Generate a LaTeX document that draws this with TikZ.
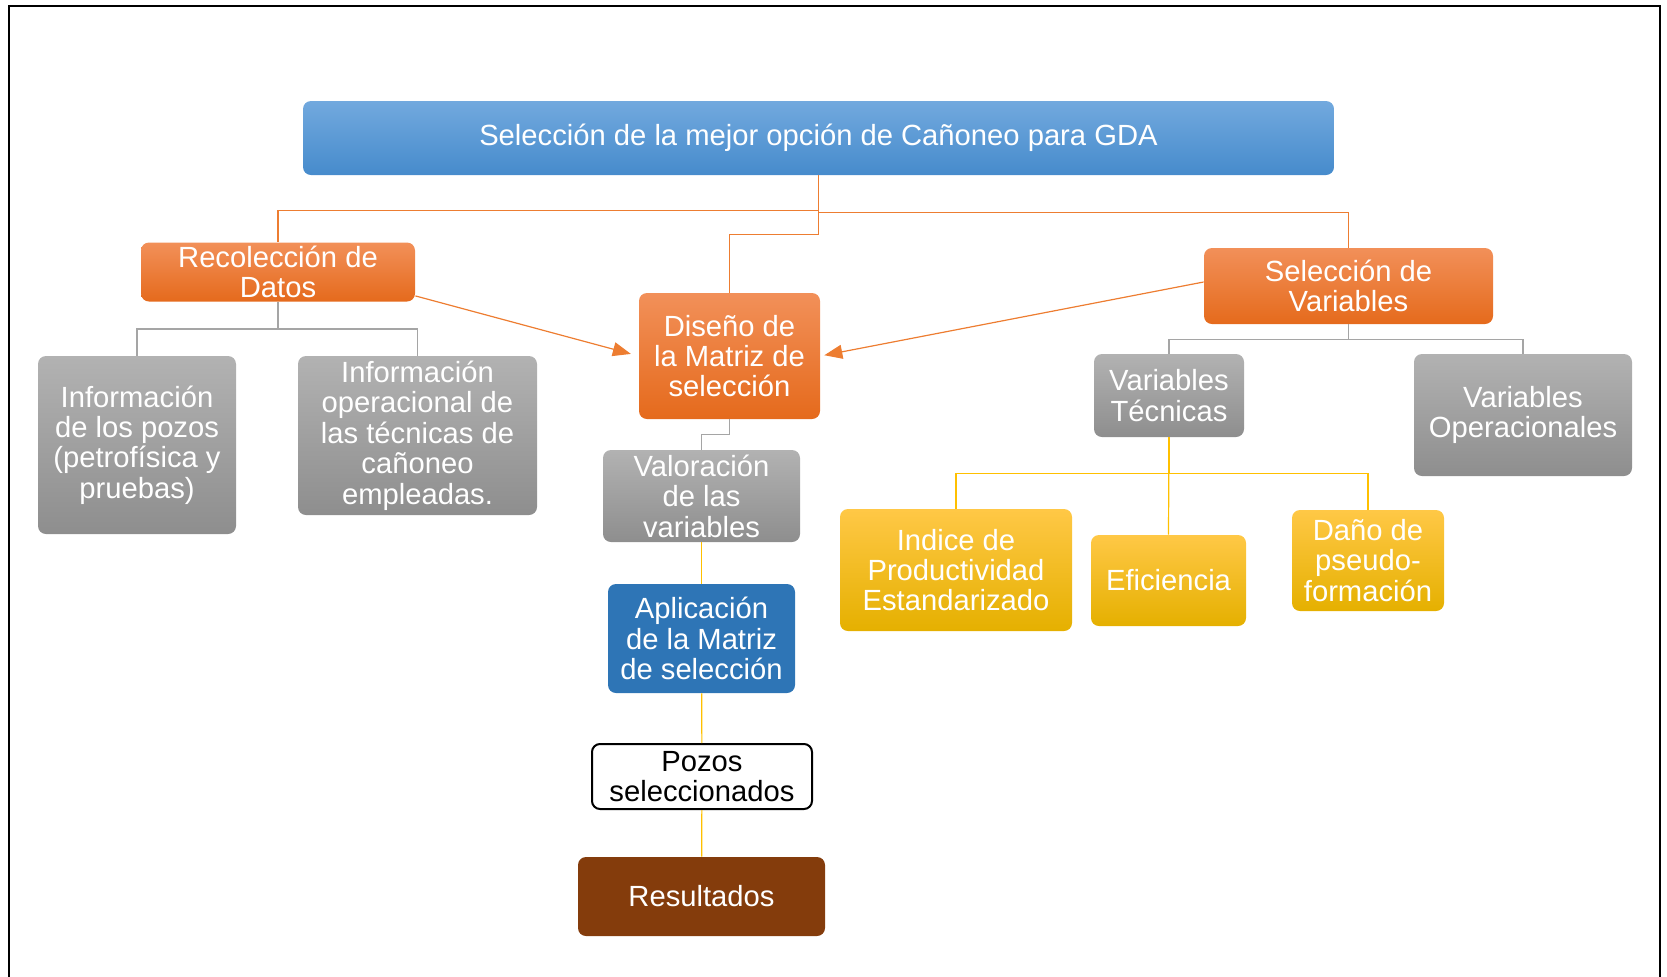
\documentclass[tikz,border=0pt]{standalone}
\usepackage{fontspec}
\setmainfont{Liberation Sans}
\usetikzlibrary{arrows.meta}

\definecolor{orTop}{HTML}{F29059}
\definecolor{orMid}{HTML}{F07B2C}
\definecolor{orBot}{HTML}{E56A1C}
\definecolor{grTop}{HTML}{B2B2B2}
\definecolor{grBot}{HTML}{8E8E8E}
\definecolor{yeTop}{HTML}{FFC846}
\definecolor{yeMid}{HTML}{FFC000}
\definecolor{yeBot}{HTML}{E5B000}
\definecolor{blTop}{HTML}{72A9DE}
\definecolor{blBot}{HTML}{468BCC}
\definecolor{blDark}{HTML}{2E75B6}
\definecolor{brown}{HTML}{843C0C}
\definecolor{orLine}{HTML}{ED7D31}
\definecolor{grLine}{HTML}{A5A5A5}
\definecolor{yeLine}{HTML}{FFC000}

\tikzset{
  orbox/.style={top color=orTop,middle color=orMid,bottom color=orBot},
  grbox/.style={top color=grTop,bottom color=grBot},
  yebox/.style={top color=yeTop,middle color=yeMid,bottom color=yeBot},
  orline/.style={draw=orLine,line width=0.6pt},
  grline/.style={draw=grLine,line width=0.6pt},
  yeline/.style={draw=yeLine,line width=0.6pt}
}

\begin{document}
\begin{tikzpicture}[x=0.5pt,y=-0.5pt]
\useasboundingbox (0,0) rectangle (1667,976);
\draw[line width=1.4pt] (9,990) -- (9,6) -- (1660,6) -- (1660,990);

\begin{scope}[every node/.style={rounded corners=4pt,align=center,text=white,
  inner sep=0pt,font=\fontsize{14.6}{15.2}\selectfont}]
	\node[top color=blTop,bottom color=blBot,minimum width=515.5pt,minimum height=37pt] (top) at (818.5,138)
		{Selección de la mejor opción de Cañoneo para GDA};
	\node[orbox,minimum width=137pt,minimum height=29.5pt] (reco) at (278,272) {Recolección de\\Datos};
	\node[orbox,minimum width=90.5pt,minimum height=63pt] (diseno) at (729.5,356) {Diseño de\\la Matriz de\\selección};
	\node[orbox,minimum width=144.5pt,minimum height=38pt] (selvar) at (1348.5,286) {Selección de\\Variables};
	\node[grbox,minimum width=99pt,minimum height=89pt] (infpozos) at (137,445)
		{Información\\de los pozos\\(petrofísica y\\pruebas)};
	\node[grbox,minimum width=119.5pt,minimum height=79.5pt] (infoper) at (417.5,435.5)
		{Información\\operacional de\\las técnicas de\\cañoneo\\empleadas.};
	\node[grbox,minimum width=98.5pt,minimum height=46pt] (valor) at (701.5,496) {Valoración\\de las\\variables};
	\node[fill=blDark,minimum width=93.5pt,minimum height=54.5pt] (aplic) at (701.5,638.5)
		{Aplicación\\de la Matriz\\de selección};
	\node[draw=black,line width=1pt,fill=white,text=black,minimum width=110pt,minimum height=32.5pt] (pozos)
		at (702,776.5) {Pozos\\seleccionados};
	\node[fill=brown,minimum width=123.5pt,minimum height=39.5pt] (result) at (701.5,896.5) {Resultados};
	\node[grbox,minimum width=75pt,minimum height=41.5pt] (vartec) at (1169,395.5) {Variables\\Técnicas};
	\node[grbox,minimum width=109pt,minimum height=61pt] (varop) at (1523,415) {Variables\\Operacionales};
	\node[yebox,minimum width=116pt,minimum height=61pt] (indice) at (956,570)
		{Indice de\\Productividad\\Estandarizado};
	\node[yebox,minimum width=77.5pt,minimum height=45.5pt] (efic) at (1168.5,580.5) {Eficiencia};
	\node[yebox,minimum width=76pt,minimum height=50.5pt] (dano) at (1368,560.5) {Daño de\\pseudo-\\formación};
\end{scope}

% links from the title
\draw[orline] (top.south) -- ++(0,35) -| (reco.north);
\draw[orline] (top.south) -- ++(0,37) -| (selvar.north);
\draw[orline] (top.south) -- ++(0,59) -| (diseno.north);
\draw[orline,-{Triangle[length=9pt,width=7pt]},shorten >=4pt] ([yshift=3pt]reco.south east) -- (diseno.west);
\draw[orline,-{Triangle[length=9pt,width=7pt]},shorten >=2pt] ([yshift=2pt]selvar.west) -- (diseno.east);

% grey branches
\draw[grline] (reco.south) -- ++(0,27) -| (infpozos.north);
\draw[grline] (reco.south) -- ++(0,27) -| (infoper.north);
\draw[grline] (selvar.south) -- ++(0,15) -| (vartec.north);
\draw[grline] (selvar.south) -- ++(0,15) -| (varop.north);
\draw[grline] (diseno.south) -- ++(0,15) -| (valor.north);

% yellow branches
\draw[yeline] (vartec.south) -- ++(0,36) -| (indice.north);
\draw[yeline] (vartec.south) -- ++(0,36) -| (dano.north);
\draw[yeline] (vartec.south) -- (efic.north);
\draw[yeline] (valor) -- (aplic);
\draw[yeline] (aplic) -- (pozos);
\draw[yeline] (pozos) -- (result);

\end{tikzpicture}
\end{document}
